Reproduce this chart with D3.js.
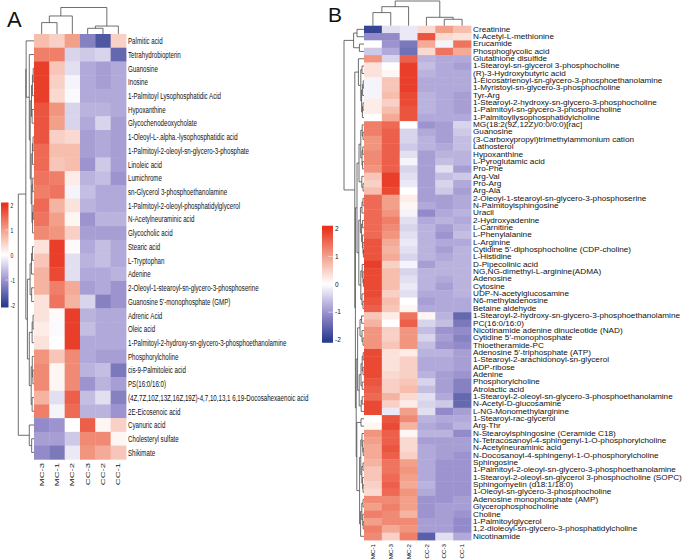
<!DOCTYPE html>
<html>
<head>
<meta charset="utf-8">
<script src="https://cdn.jsdelivr.net/npm/d3@7"></script>
<style>
  body { margin: 0; background: #fff; }
  text { font-family: "Liberation Sans", Arial, sans-serif; fill: #111; }
</style>
</head>
<body>
<svg width="684" height="559"></svg>
<script>
// ---------- dati pannello A ----------
const samplesA = ["MC-3", "MC-1", "MC-2", "CC-3", "CC-2", "CC-1"];
const metabolitesA = [
  "Palmitic acid", "Tetrahydrobiopterin", "Guanosine", "Inosine",
  "1-Palmitoyl Lysophosphatidic Acid", "Hypoxanthine", "Glycochenodeoxycholate",
  "1-Oleoyl-L-.alpha.-lysophosphatidic acid", "1-Palmitoyl-2-oleoyl-sn-glycero-3-phosphate",
  "Linoleic acid", "Lumichrome", "sn-Glycerol 3-phosphoethanolamine",
  "1-Palmitoyl-2-oleoyl-phosphatidylglycerol", "N-Acetylneuraminic acid", "Glycocholic acid",
  "Stearic acid", "L-Tryptophan", "Adenine", "2-Oleoyl-1-stearoyl-sn-glycero-3-phosphoserine",
  "Guanosine 5'-monophosphate (GMP)", "Adrenic Acid", "Oleic acid",
  "1-Palmitoyl-2-hydroxy-sn-glycero-3-phosphoethanolamine", "Phosphorylcholine",
  "cis-9-Palmitoleic acid", "PS(16:0/16:0)",
  "(4Z,7Z,10Z,13Z,16Z,19Z)-4,7,10,13,1 6,19-Docosahexaenoic acid", "2E-Eicosenoic acid",
  "Cyanuric acid", "Cholesteryl sulfate", "Shikimate"
];
const valuesA = [
  [0.7, 0.5, 1.0, -1.2, -1.7, 0.5],
  [1.3, 1.3, -0.4, -0.5, -0.4, -1.5],
  [1.9, 0.6, -0.3, -0.8, -0.9, -0.8],
  [1.9, 0.5, -0.1, -0.8, -0.9, -0.8],
  [1.9, 0.4, -0.05, -0.8, -0.8, -0.8],
  [1.7, 1.1, -0.4, -0.7, -0.7, -0.8],
  [1.7, 1.0, -0.4, -0.8, -0.4, -0.9],
  [1.7, 0.5, 0.4, -0.9, -0.8, -0.9],
  [1.5, 0.7, 0.7, -0.9, -0.8, -0.9],
  [1.5, 0.6, 0.7, -1.0, -0.5, -0.9],
  [1.4, 1.3, 0.2, -0.7, -0.6, -1.0],
  [1.3, 1.4, -0.1, -0.6, -0.8, -0.8],
  [1.5, 0.8, 0.3, -0.7, -0.8, -0.8],
  [1.4, 1.0, 0.1, -1.0, -0.7, -0.7],
  [1.2, 1.1, 0.5, -0.9, -0.9, -0.9],
  [0.3, 1.9, 0.05, -0.8, -0.6, -0.8],
  [0.6, 1.9, -0.3, -0.7, -0.6, -0.8],
  [0.8, 1.8, -0.3, -0.8, -0.8, -0.7],
  [0.8, 1.3, 0.9, -0.9, -0.8, -1.0],
  [0.3, 1.4, 0.8, -0.4, -1.2, -1.0],
  [0.3, 0.05, 1.9, -0.7, -0.8, -0.8],
  [0.2, -0.05, 1.9, -0.6, -0.8, -0.8],
  [0.3, 0.0, 1.9, -0.8, -0.8, -0.8],
  [1.1, 0.6, 1.2, -0.8, -0.9, -0.9],
  [1.2, 0.1, 1.2, -0.7, -0.6, -1.3],
  [1.2, 0.1, 1.2, -1.0, -0.7, -0.9],
  [0.8, -0.3, 1.6, -0.6, -0.3, -1.2],
  [1.3, -0.1, 1.5, -0.7, -0.7, -1.0],
  [-1.1, -1.0, 0.0, 1.6, 0.1, 0.5],
  [-0.9, -0.9, -0.5, 1.2, 1.2, 0.1],
  [-1.1, -1.3, -0.2, 1.1, 0.9, 0.6]
];
// alberi: [altezza, sinistro, destro], foglie = indice
const colTreeA = [10, [6.8, [4.3, 0, 1], 2], [3.0, [2.15, 3, 4], 5]];
const rowTreeA = [10,
  [5.2,
    [5.0, 0, [3.0, 1, [2.4,
      [1.6, [1.0, [0.5, 2, 3], 4], [1.2, 5, 6]],
      [1.8, [1.0, [0.6, 7, 8], 9], [1.3, [0.8, 10, 11], [0.9, [0.5, 12, 13], 14]]]]]],
    [4.2,
      [2.5, [1.6, [1.0, 15, 16], 17], [1.5, 18, 19]],
      [3.0, [1.2, [0.6, 20, 21], 22], [1.8, [1.1, 23, [0.7, 24, 25]], [1.2, 26, 27]]]]],
  [3.0, 28, [1.5, 29, 30]]];

// ---------- dati pannello B ----------
const samplesB = ["MC-1", "MC-3", "MC-2", "CC-2", "CC-3", "CC-1"];
const metabolitesB = [
  "Creatinine", "N-Acetyl-L-methionine", "Erucamide", "Phosphoglycolic acid",
  "Glutathione disulfide", "1-Stearoyl-sn-glycerol 3-phosphocholine",
  "(R)-3-Hydroxybutyric acid", "1-Eicosatrienoyl-sn-glycero-3-phosphoethanolamine",
  "1-Myristoyl-sn-glycero-3-phosphocholine", "Tyr-Arg",
  "1-Stearoyl-2-hydroxy-sn-glycero-3-phosphocholine", "1-Palmitoyl-sn-glycero-3-phosphocholine",
  "1-Palmitoyllysophosphatidylcholine", "MG(18:2(9Z,12Z)/0:0/0:0)[rac]", "Guanosine",
  "(3-Carboxypropyl)trimethylammonium cation", "Lathosterol", "Hypoxanthine",
  "L-Pyroglutamic acid", "Pro-Phe", "Arg-Val", "Pro-Arg", "Arg-Ala",
  "2-Oleoyl-1-stearoyl-sn-glycero-3-phosphoserine", "N-Palmitoylsphingosine", "Uracil",
  "2-Hydroxyadenine", "L-Carnitine", "L-Phenylalanine", "L-Arginine",
  "Cytidine 5'-diphosphocholine (CDP-choline)", "L-Histidine", "D-Pipecolinic acid",
  "NG,NG-dimethyl-L-arginine(ADMA)", "Adenosine", "Cytosine", "UDP-N-acetylglucosamine",
  "N6-methyladenosine", "Betaine aldehyde",
  "1-Stearoyl-2-hydroxy-sn-glycero-3-phosphoethanolamine", "PC(16:0/16:0)",
  "Nicotinamide adenine dinucleotide (NAD)", "Cytidine 5'-monophosphate", "Thioetheramide-PC",
  "Adenosine 5'-triphosphate (ATP)", "1-Stearoyl-2-arachidonoyl-sn-glycerol", "ADP-ribose",
  "Adenine", "Phosphorylcholine", "Atrolactic acid",
  "1-Stearoyl-2-oleoyl-sn-glycero-3-phosphoethanolamine", "N-Acetyl-D-glucosamine",
  "L-NG-Monomethylarginine", "1-Stearoyl-rac-glycerol", "Arg-Thr",
  "N-Stearoylsphingosine (Ceramide C18)", "N-Tetracosanoyl-4-sphingenyl-1-O-phosphorylcholine",
  "N-Acetylneuraminic acid", "N-Docosanoyl-4-sphingenyl-1-O-phosphorylcholine", "Sphingosine",
  "1-Palmitoyl-2-oleoyl-sn-glycero-3-phosphoethanolamine",
  "1-Stearoyl-2-oleoyl-sn-glycerol 3-phosphocholine (SOPC)", "Sphingomyelin (d18:1/18:0)",
  "1-Oleoyl-sn-glycero-3-phosphocholine", "Adenosine monophosphate (AMP)",
  "Glycerophosphocholine", "Choline", "1-Palmitoylglycerol",
  "1,2-dioleoyl-sn-glycero-3-phosphatidylcholine", "Nicotinamide"
];
const valuesB = [
  [-1.9, -0.3, -0.2, 0.4, 1.0, 0.7],
  [-1.1, -1.1, -0.2, 1.7, 0.4, 0.3],
  [0.0, -1.0, -1.3, 0.9, -0.1, 1.4],
  [-0.5, -0.8, -1.4, 0.4, 1.4, 0.9],
  [1.1, -0.4, 1.6, -0.7, -0.8, -0.8],
  [0.3, 0.0, 1.9, -0.6, -0.8, -0.9],
  [0.3, 0.1, 1.9, -0.7, -0.8, -0.8],
  [-0.1, 0.6, 1.9, -0.8, -0.8, -0.8],
  [-0.1, 0.6, 1.9, -0.8, -0.8, -0.8],
  [-0.1, 0.7, 1.8, -0.7, -0.8, -0.9],
  [0.2, 0.5, 1.8, -0.7, -0.8, -0.9],
  [0.2, 0.7, 1.7, -0.7, -0.8, -0.9],
  [0.0, 0.9, 1.7, -0.8, -0.8, -0.8],
  [1.3, 1.5, 0.0, -1.0, -0.9, -0.4],
  [1.3, 1.6, -0.4, -0.8, -0.9, -0.5],
  [1.1, 1.6, -0.4, -0.7, -0.9, -0.6],
  [1.1, 1.6, -0.5, -0.7, -0.8, -0.6],
  [1.2, 1.6, -0.3, -0.9, -0.7, -0.7],
  [1.2, 1.6, -0.1, -0.9, -0.6, -0.7],
  [1.1, 1.6, -0.4, -0.9, -0.3, -0.9],
  [0.6, 1.9, -0.3, -0.9, -0.6, -0.5],
  [0.5, 1.9, -0.2, -0.9, -0.4, -0.8],
  [0.7, 1.8, 0.0, -0.9, -0.5, -0.9],
  [1.5, 1.0, 0.2, -0.9, -0.9, -0.8],
  [1.5, 1.0, 0.1, -0.8, -0.9, -0.8],
  [1.5, 1.1, -0.1, -1.1, -0.8, -0.7],
  [1.5, 1.3, -0.3, -0.8, -0.7, -0.8],
  [1.5, 1.2, -0.4, -0.7, -0.9, -0.7],
  [1.5, 1.1, -0.3, -0.7, -1.0, -0.6],
  [1.7, 0.9, -0.2, -0.7, -0.8, -0.8],
  [1.7, 0.8, -0.3, -0.7, -0.9, -0.7],
  [1.7, 0.9, -0.4, -0.7, -0.8, -0.7],
  [1.9, 0.5, -0.1, -0.9, -0.7, -0.7],
  [1.8, 0.7, -0.4, -0.7, -0.7, -0.7],
  [1.8, 0.7, -0.3, -0.7, -0.8, -0.7],
  [1.8, 0.7, -0.2, -0.7, -0.9, -0.7],
  [1.8, 0.5, -0.3, -0.8, -0.8, -0.7],
  [1.7, 0.7, 0.0, -0.9, -0.8, -0.8],
  [1.6, 0.6, 0.1, -0.8, -0.8, -0.8],
  [0.6, 0.2, 1.4, 0.1, -0.7, -1.5],
  [0.8, 0.0, 1.6, -0.4, -0.6, -1.3],
  [1.1, 0.5, 1.1, -0.6, -1.0, -1.1],
  [1.1, 0.5, 1.1, -0.4, -0.9, -1.2],
  [1.1, 0.6, 1.1, -0.6, -1.0, -1.1],
  [1.8, 0.3, 0.2, -0.7, -0.7, -0.9],
  [1.8, 0.3, 0.5, -0.8, -0.8, -0.9],
  [1.8, 0.3, 0.5, -0.8, -0.8, -0.9],
  [1.8, 0.4, 0.5, -0.7, -0.9, -1.0],
  [1.7, 0.5, 0.6, -0.4, -0.9, -1.2],
  [1.6, 0.5, 0.7, -0.6, -0.9, -1.2],
  [1.5, 0.8, 0.4, -0.3, -0.8, -1.5],
  [1.8, 0.5, 0.2, -0.4, -0.5, -1.5],
  [1.8, -0.2, 1.0, -0.3, -1.1, -0.9],
  [0.0, 1.7, 1.2, -0.7, -0.8, -0.8],
  [0.1, 1.8, 0.8, -0.8, -0.9, -0.7],
  [1.1, 1.6, 0.1, -0.7, -0.7, -1.1],
  [1.0, 1.6, 0.4, -0.9, -0.9, -0.9],
  [0.9, 1.7, 0.4, -0.8, -0.9, -0.9],
  [0.9, 1.6, 0.5, -0.8, -0.9, -1.0],
  [0.8, 1.4, 1.0, -0.8, -1.0, -1.0],
  [0.6, 1.4, 1.1, -0.8, -1.0, -1.0],
  [0.6, 1.5, 1.0, -0.8, -1.0, -1.0],
  [0.5, 1.6, 0.9, -0.7, -1.0, -1.0],
  [0.4, 1.5, 1.1, -0.8, -1.0, -1.0],
  [1.2, 1.2, 1.0, -1.0, -1.0, -0.9],
  [1.0, 1.3, 1.0, -1.0, -0.9, -0.9],
  [1.3, 1.2, 0.8, -1.0, -0.9, -1.0],
  [1.0, 1.2, 1.2, -0.9, -0.9, -1.1],
  [1.3, 0.9, 1.1, -0.9, -0.9, -1.1],
  [1.2, 0.5, 1.3, -1.6, -0.3, -0.8]
];
const colTreeB = [10, [7.7, [5.3, 0, 1], 2], [3.4, 3, [2.6, 4, 5]]];
const rowTreeB = [10,
  [5.2, [3.5, 0, 1], [2.3, 2, 3]],
  [4.6,
    [2.8, 4, [1.6, [1.0, 5, 6], [1.2, [0.7, [0.4, 7, 8], 9], [0.8, [0.5, 10, 11], 12]]]],
    [4.3,
      [3.5,
        [2.5, [1.6, [0.9, 13, [0.5, 14, 15]], [1.0, [0.6, 16, 17], [0.7, 18, 19]]], [1.1, 20, [0.5, 21, 22]]],
        [2.6, [1.8, [1.0, [0.5, 23, 24], 25], [1.2, [0.7, 26, 27], [0.8, 28, [0.5, 29, [0.3, 30, 31]]]]],
              [1.6, [0.9, 32, [0.5, 33, [0.3, 34, 35]]], [1.0, 36, [0.5, 37, 38]]]]],
      [3.9,
        [3.2, [2.0, [1.2, 39, 40], [1.0, 41, [0.5, 42, 43]]],
              [2.4, [1.5, [0.9, [0.4, 44, 45], [0.5, 46, 47]], [0.9, 48, 49]], [1.4, [0.9, 50, 51], 52]]],
        [3.6, [1.5, 53, 54],
              [2.2, [1.6, [1.0, 55, [0.6, 56, [0.4, 57, 58]]], [1.1, [0.5, 59, 60], [0.7, 61, [0.5, 62, 63]]]],
                    [1.7, [1.1, [0.5, 64, 65], [0.6, 66, [0.4, 67, 68]]], 69]]]]]]];

const legendTicks = [2, 1, 0, -1, -2];

// ---------- scala colori ----------
const svg = d3.select("svg");
const color = d3.scaleLinear()
  .domain([-2, -1, 0, 1, 2])
  .range(["#2b3d8f", "#9d93cf", "#ffffff", "#f3a08a", "#e8331f"])
  .clamp(true);

// disegna un albero gerarchico (stile pheatmap, a gomito)
function drawTree(g, tree, pos, hScale, vertical) {
  function walk(node) {
    if (typeof node === "number") return { p: pos(node), h: 0 };
    const a = walk(node[1]), b = walk(node[2]);
    const h = node[0];
    let d;
    if (vertical) {
      d = `M${a.p},${hScale(a.h)}V${hScale(h)}H${b.p}V${hScale(b.h)}`;
    } else {
      d = `M${hScale(a.h)},${a.p}H${hScale(h)}V${b.p}H${hScale(b.h)}`;
    }
    g.append("path").attr("d", d);
    return { p: (a.p + b.p) / 2, h: h };
  }
  walk(tree);
}

function drawHeatmap(cfg) {
  const g = svg.append("g");
  const x = d3.scaleBand().domain(d3.range(cfg.samples.length)).range([cfg.x0, cfg.x1]);
  const y = d3.scaleBand().domain(d3.range(cfg.rows.length)).range([cfg.y0, cfg.y1]);

  // celle
  cfg.values.forEach((row, i) => {
    g.selectAll(null)
      .data(row)
      .join("rect")
      .attr("x", (d, j) => x(j))
      .attr("y", y(i))
      .attr("width", x.bandwidth() + 0.4)
      .attr("height", y.bandwidth() + 0.4)
      .attr("fill", d => color(d));
  });

  // dendrogrammi
  const tg = g.append("g")
    .attr("fill", "none")
    .attr("stroke", "#4a4a4a")
    .attr("stroke-width", 0.8);
  const colH = d3.scaleLinear().domain([0, 10]).range([cfg.y0, cfg.colTop]);
  drawTree(tg, cfg.colTree, j => x(j) + x.bandwidth() / 2, colH, true);
  const rowH = d3.scaleLinear().domain([0, 10]).range([cfg.x0, cfg.rowLeft]);
  drawTree(tg, cfg.rowTree, i => y(i) + y.bandwidth() / 2, rowH, false);

  // etichette righe
  g.selectAll(".rowlab")
    .data(cfg.rows)
    .join("text")
    .attr("class", "rowlab")
    .attr("transform", (d, i) => `translate(${cfg.x1 + 2},${y(i) + y.bandwidth() / 2}) scale(${cfg.rowSx},1)`)
    .attr("dy", "0.35em")
    .attr("font-size", cfg.rowFont)
    .text(d => d);

  // etichette colonne
  g.selectAll(".collab")
    .data(cfg.samples)
    .join("text")
    .attr("class", "collab")
    .attr("transform", (d, j) => `translate(${x(j) + x.bandwidth() / 2},${cfg.colLabY}) rotate(-90) scale(1,${cfg.colSy})`)
    .attr("text-anchor", "end")
    .attr("dy", "0.35em")
    .attr("font-size", cfg.colFont)
    .text(d => d);

  // legenda
  const ly = d3.scaleLinear().domain([2, -2]).range(cfg.legY);
  const grad = svg.append("defs").append("linearGradient")
    .attr("id", cfg.id)
    .attr("x1", 0).attr("x2", 0).attr("y1", 0).attr("y2", 1);
  d3.range(-2.1, 2.11, 0.1).reverse().forEach((v, k, arr) => {
    grad.append("stop").attr("offset", k / (arr.length - 1)).attr("stop-color", color(v));
  });
  g.append("rect")
    .attr("x", cfg.legX)
    .attr("y", ly(2.1))
    .attr("width", cfg.legW)
    .attr("height", ly(-2.1) - ly(2.1))
    .attr("fill", `url(#${cfg.id})`);
  g.selectAll(".legtick")
    .data(legendTicks.slice(1, 4))
    .join("line")
    .attr("x1", cfg.legX + cfg.legW * 0.55).attr("x2", cfg.legX + cfg.legW)
    .attr("y1", d => ly(d)).attr("y2", d => ly(d))
    .attr("stroke", "#fff").attr("stroke-width", 0.6).attr("opacity", 0.8);
  g.selectAll(".leglab")
    .data(legendTicks)
    .join("text")
    .attr("transform", d => `translate(${cfg.legX + cfg.legW + 2},${ly(d)}) scale(${cfg.legSx},1)`)
    .attr("dy", "0.35em")
    .attr("font-size", cfg.legFont)
    .text(d => d);
}

drawHeatmap({
  id: "gradA", samples: samplesA, rows: metabolitesA, values: valuesA,
  colTree: colTreeA, rowTree: rowTreeA,
  x0: 34, x1: 126, y0: 34, y1: 459.3, colTop: 7.5, rowLeft: 18.3,
  rowSx: 0.665, rowFont: 9.3, colSy: 0.62, colFont: 9.5, colLabY: 463,
  legX: 1, legW: 7.5, legY: [205, 305], legSx: 0.62, legFont: 8
});

drawHeatmap({
  id: "gradB", samples: samplesB, rows: metabolitesB, values: valuesB,
  colTree: colTreeB, rowTree: rowTreeB,
  x0: 364, x1: 471, y0: 25.7, y1: 540, colTop: 1, rowLeft: 344,
  rowSx: 1.28, rowFont: 6.4, colSy: 1, colFont: 6.2, colLabY: 544,
  legX: 322, legW: 11, legY: [228.5, 340], legSx: 1, legFont: 6.5
});

// lettere dei pannelli
svg.append("text")
  .attr("x", 7).attr("y", 27)
  .attr("font-family", "Liberation Serif, Times New Roman, serif")
  .attr("font-size", 22)
  .text("A");
svg.append("text")
  .attr("x", 328).attr("y", 22)
  .attr("font-family", "Liberation Serif, Times New Roman, serif")
  .attr("font-size", 21)
  .text("B");
</script>
</body>
</html>
